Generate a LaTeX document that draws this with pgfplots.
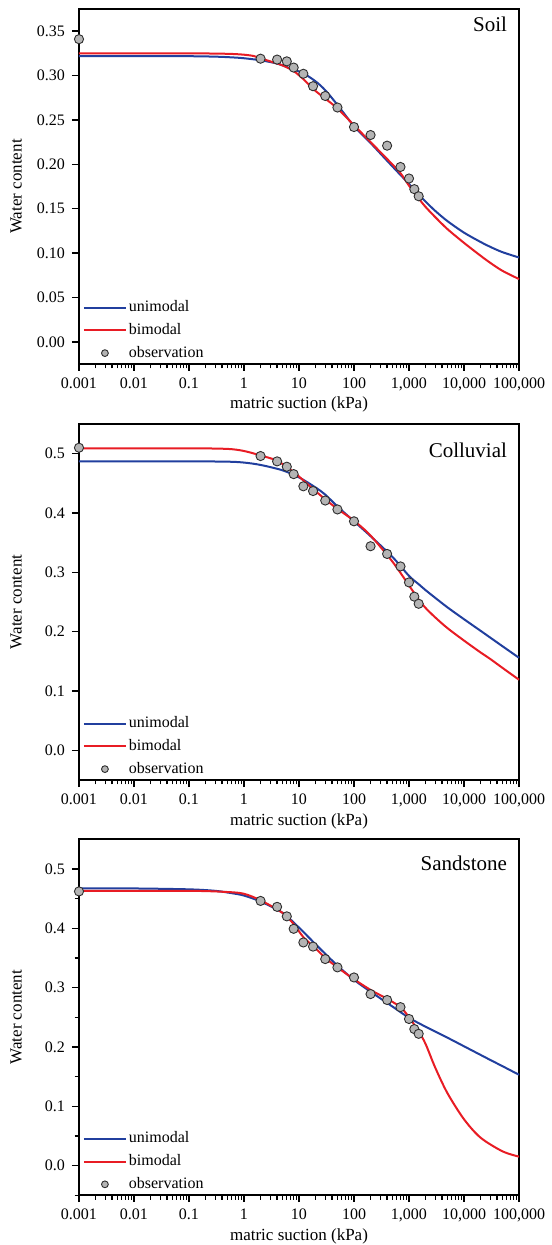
\documentclass[border=0pt]{standalone}
\usepackage{fontspec}
\setmainfont{Liberation Serif}
\usepackage{pgfplots}
\pgfplotsset{compat=1.18}

\definecolor{unicol}{RGB}{33,63,158}
\definecolor{bicol}{RGB}{232,28,36}
\definecolor{obsfill}{RGB}{180,180,180}
\definecolor{obsdraw}{RGB}{45,45,45}

\pgfplotsset{
  every axis/.append style={
    scale only axis, width=220pt,
    xmin=1e-3, xmax=1e5,
    xtick={1e-3,1e-2,1e-1,1,1e1,1e2,1e3,1e4,1e5},
    xticklabels={0.001,0.01,0.1,1,10,100,{1,000},{10,000},{100,000}},
    minor xtick={2e-3,3e-3,4e-3,5e-3,6e-3,7e-3,8e-3,9e-3,
      2e-2,3e-2,4e-2,5e-2,6e-2,7e-2,8e-2,9e-2,
      2e-1,3e-1,4e-1,5e-1,6e-1,7e-1,8e-1,9e-1,
      2,3,4,5,6,7,8,9,
      2e1,3e1,4e1,5e1,6e1,7e1,8e1,9e1,
      2e2,3e2,4e2,5e2,6e2,7e2,8e2,9e2,
      2e3,3e3,4e3,5e3,6e3,7e3,8e3,9e3,
      2e4,3e4,4e4,5e4,6e4,7e4,8e4,9e4},
    tick pos=left, tick align=outside,
    major tick length=3.5pt, minor tick length=2.2pt,
    tick style={black, line width=0.7pt},
    axis line style={line width=0.75pt},
    tick label style={font=\fontsize{8}{9.6}\selectfont},
    label style={font=\fontsize{8.5}{10}\selectfont},
    xlabel={matric suction (kPa)}, ylabel={Water content},
    xlabel style={at={(axis description cs:0.5,-0.115)}, anchor=center},
    ylabel style={at={(axis description cs:-0.143,0.5)}, anchor=center},
    clip=false,
    legend style={at={(0.008,0.004)}, anchor=south west, draw=none, fill=none,
      inner sep=0pt, font=\fontsize{8}{9.6}\selectfont, row sep=2.3pt,
      nodes={inner sep=1pt}},
    legend cell align=left,
    legend image code/.code={\draw[mark repeat=2,mark phase=2,##1]
      plot coordinates {(0pt,0pt) (10.5pt,0pt) (21pt,0pt)};},
    legend image post style={mark size=1.7pt},
  },
}
\tikzset{paneltitle/.style={anchor=base east, xshift=-2.5pt,
    font=\fontsize{10.5}{12}\selectfont}}

\begin{document}
\begin{tikzpicture}
\path[use as bounding box] (0pt,0pt) rectangle (275.5pt,-622.5pt);

% Soil
\begin{semilogxaxis}[height=177.5pt, at={(39.5pt,-4.5pt)}, anchor=north west,
  ymin=-0.025, ymax=0.375,
  ytick={0,0.05,0.1,0.15,0.2,0.25,0.3,0.35},
  yticklabels={0.00,0.05,0.10,0.15,0.20,0.25,0.30,0.35}]
\addplot[unicol, line width=1pt, no marks, smooth] coordinates {
  (0.001,0.322) (0.01,0.322) (0.1,0.3218) (0.3,0.3213) (0.6,0.3205) (1,0.3195)
  (2,0.3172) (4,0.3135) (7,0.308) (12,0.3025) (20,0.2935) (30,0.2835) (50,0.267)
  (100,0.243) (200,0.224) (400,0.204) (700,0.188) (1000,0.178) (1500,0.166)
  (2000,0.158) (3000,0.1475) (5000,0.136) (10000,0.123) (20000,0.1125)
  (30000,0.107) (50000,0.101) (100000,0.095)};
\addlegendentry{unimodal}
\addplot[bicol, line width=1pt, no marks, smooth] coordinates {
  (0.001,0.325) (0.1,0.325) (0.5,0.3245) (1,0.3235) (1.5,0.322) (2,0.3195)
  (3,0.316) (5,0.3115) (8,0.305) (12,0.296) (18,0.285) (30,0.274) (50,0.263)
  (100,0.244) (200,0.225) (400,0.206) (700,0.19) (1000,0.176) (1500,0.1615)
  (2000,0.152) (3000,0.1405) (5000,0.127) (10000,0.1115) (20000,0.097)
  (30000,0.089) (50000,0.08) (100000,0.0707)};
\addlegendentry{bimodal}
\addplot[only marks, mark=*, mark size=2.3pt,
  mark options={fill=obsfill, draw=obsdraw, line width=0.45pt}] coordinates {
  (0.001,0.341) (2,0.319) (4,0.318) (6,0.316) (8,0.309) (12,0.302) (18,0.288)
  (30,0.277) (50,0.264) (100,0.242) (200,0.233) (400,0.221) (700,0.197)
  (1000,0.184) (1250,0.172) (1500,0.164)};
\addlegendentry{observation}
\node[paneltitle, yshift=-11.2pt] at (rel axis cs:1,1) {Soil};
\end{semilogxaxis}

% Colluvial
\begin{semilogxaxis}[height=178pt, at={(39.5pt,-212pt)}, anchor=north west,
  ymin=-0.05, ymax=0.55,
  ytick={0,0.1,0.2,0.3,0.4,0.5},
  yticklabels={0.0,0.1,0.2,0.3,0.4,0.5}]
\addplot[unicol, line width=1pt, no marks, smooth] coordinates {
  (0.001,0.487) (0.1,0.487) (0.5,0.4865) (1,0.485) (2,0.481) (5,0.472)
  (10,0.46) (20,0.443) (30,0.431) (50,0.411) (100,0.386) (200,0.361)
  (500,0.326) (1000,0.294) (1500,0.28) (2000,0.27) (3000,0.257) (5000,0.241)
  (10000,0.221) (20000,0.2015) (30000,0.19) (50000,0.1755) (100000,0.156)};
\addlegendentry{unimodal}
\addplot[bicol, line width=1pt, no marks, smooth] coordinates {
  (0.001,0.509) (0.1,0.509) (0.5,0.508) (1,0.5045) (2,0.497) (4,0.488)
  (8,0.469) (15,0.447) (30,0.423) (50,0.407) (100,0.387) (200,0.362)
  (500,0.318) (1000,0.278) (1500,0.254) (2000,0.24) (3000,0.224)
  (5000,0.206) (10000,0.185) (20000,0.165) (30000,0.154) (50000,0.139)
  (100000,0.119)};
\addlegendentry{bimodal}
\addplot[only marks, mark=*, mark size=2.3pt,
  mark options={fill=obsfill, draw=obsdraw, line width=0.45pt}] coordinates {
  (0.001,0.51) (2,0.496) (4,0.487) (6,0.478) (8,0.4655) (12,0.445) (18,0.437)
  (30,0.421) (50,0.406) (100,0.386) (200,0.344) (400,0.331) (700,0.31)
  (1000,0.283) (1250,0.259) (1500,0.247)};
\addlegendentry{observation}
\node[paneltitle, yshift=-16.8pt] at (rel axis cs:1,1) {Colluvial};
\end{semilogxaxis}

% Sandstone
\begin{semilogxaxis}[height=178pt, at={(39.5pt,-419.6pt)}, anchor=north west,
  ymin=-0.05, ymax=0.55,
  ytick={0,0.1,0.2,0.3,0.4,0.5},
  yticklabels={0.0,0.1,0.2,0.3,0.4,0.5},
  minor ytick={-0.05,0.05,0.15,0.25,0.35,0.45}]
\addplot[unicol, line width=1pt, no marks, smooth] coordinates {
  (0.001,0.467) (0.01,0.467) (0.1,0.4655) (0.3,0.463) (0.6,0.459) (1,0.455)
  (2,0.445) (5,0.426) (10,0.401) (20,0.373) (50,0.337) (100,0.313)
  (200,0.293) (500,0.268) (1000,0.249) (2000,0.234) (5000,0.2155)
  (10000,0.201) (20000,0.1865) (30000,0.178) (50000,0.1675) (100000,0.153)};
\addlegendentry{unimodal}
\addplot[bicol, line width=1pt, no marks, smooth] coordinates {
  (0.001,0.463) (0.1,0.463) (0.5,0.461) (1,0.458) (2,0.447) (5,0.426)
  (8,0.407) (12,0.385) (20,0.366) (30,0.35) (50,0.334) (100,0.314)
  (200,0.296) (400,0.281) (700,0.267) (1000,0.25) (1500,0.226) (2000,0.205)
  (3000,0.165) (5000,0.122) (10000,0.078) (20000,0.047) (50000,0.024)
  (100000,0.015)};
\addlegendentry{bimodal}
\addplot[only marks, mark=*, mark size=2.3pt,
  mark options={fill=obsfill, draw=obsdraw, line width=0.45pt}] coordinates {
  (0.001,0.462) (2,0.446) (4,0.436) (6,0.42) (8,0.399) (12,0.376) (18,0.369)
  (30,0.348) (50,0.334) (100,0.317) (200,0.289) (400,0.279) (700,0.267)
  (1000,0.247) (1250,0.23) (1500,0.222)};
\addlegendentry{observation}
\node[paneltitle, yshift=-15.7pt] at (rel axis cs:1,1) {Sandstone};
\end{semilogxaxis}
\end{tikzpicture}
\end{document}
